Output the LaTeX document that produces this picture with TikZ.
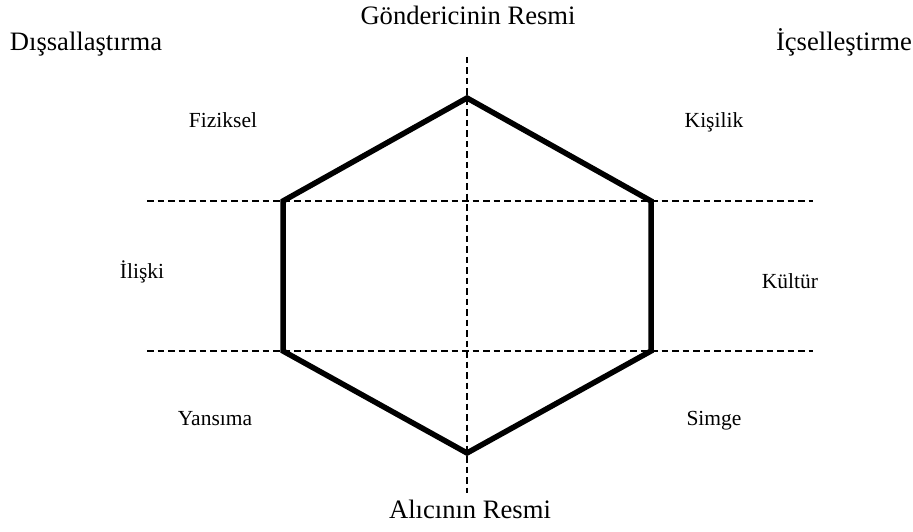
\documentclass[tikz,border=0pt]{standalone}
\usepackage{fontspec}
\setmainfont{Liberation Serif}
\begin{document}
\begin{tikzpicture}[x=1pt,y=-1pt,
  bigtext/.style={anchor=base,inner sep=0pt,font=\fontsize{26.6}{31}\selectfont},
  smalltext/.style={anchor=base,inner sep=0pt,font=\fontsize{21.5}{25}\selectfont},
  guide/.style={dash pattern=on 6.5pt off 4pt,line width=1.6pt},
  hexline/.style={line width=5.5pt,line join=miter}]
\useasboundingbox (0,0) rectangle (913,532);
% guide lines
\coordinate (vtop) at (467,57);
\coordinate (vbot) at (467,493);
\coordinate (h1l) at (147,201);
\coordinate (h1r) at (813,201);
\coordinate (h2l) at (147,351);
\coordinate (h2r) at (813,351);
\draw[guide] (vtop) -- (vbot);
\draw[guide] (h1l) -- (h1r);
\draw[guide] (h2l) -- (h2r);
% hexagon corners
\coordinate (top) at (467,98);
\coordinate (ul) at (283,201);
\coordinate (ll) at (283,351);
\coordinate (bot) at (467,453);
\coordinate (lr) at (651,351);
\coordinate (ur) at (651,201);
\draw[hexline] (top) -- (ul) -- (ll) -- (bot) -- (lr) -- (ur) -- cycle;
% titles
\node[bigtext] (sender) at (468,25) {Göndericinin Resmi};
\node[bigtext] (receiver) at (470,518) {Alıcının Resmi};
\node[bigtext] (ext) at (86,51) {Dışsallaştırma};
\node[bigtext] (int) at (844,51) {İçselleştirme};
% facets
\node[smalltext] (fiz) at (223,128) {Fiziksel};
\node[smalltext] (kis) at (714,128) {Kişilik};
\node[smalltext] (ili) at (142,278) {İlişki};
\node[smalltext] (kul) at (790,288) {Kültür};
\node[smalltext] (yan) at (215,425) {Yansıma};
\node[smalltext] (sim) at (714,425) {Simge};
\end{tikzpicture}
\end{document}
